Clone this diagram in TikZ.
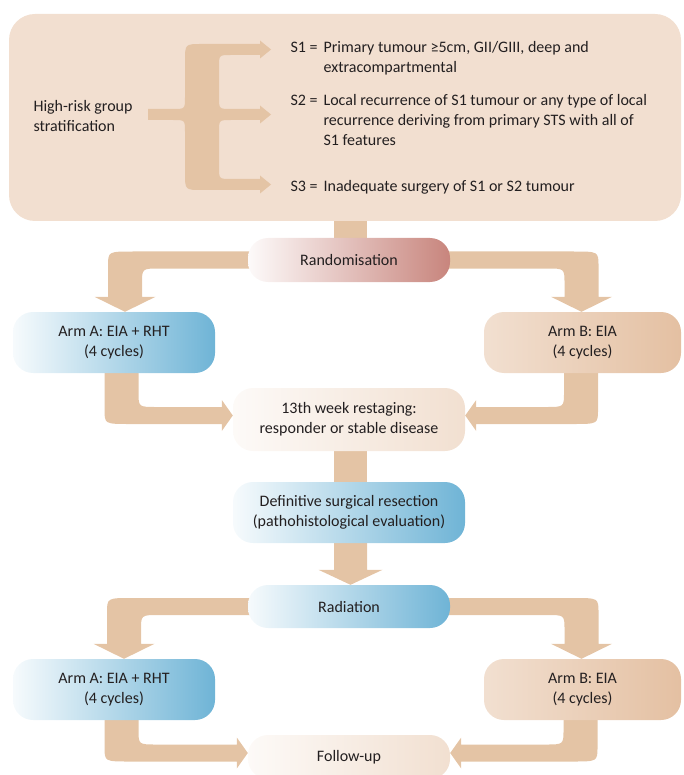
\documentclass[tikz,border=0pt]{standalone}
\usepackage{fontspec}
\setmainfont{Carlito}
\usetikzlibrary{calc,backgrounds}

\definecolor{flowc}{HTML}{E4C4A5}
\definecolor{panelc}{HTML}{F2DFD0}
\definecolor{armblue}{HTML}{6FB4D6}
\definecolor{armpeach}{HTML}{E4C0A2}
\definecolor{randrose}{HTML}{C8857D}
\definecolor{textc}{HTML}{231F20}

\begin{document}
\begin{tikzpicture}[
    x=1pt, y=-1pt, % pixel units, y runs downwards
    every node/.style={font=\fontsize{16}{20}\selectfont, text=textc},
    box/.style={rounded corners=20pt, inner sep=0pt, align=center},
    blue box/.style={box, left color=armblue!6!white, right color=armblue},
    peach box/.style={box, left color=armpeach!50!white, right color=armpeach},
    pale box/.style={box, left color=armpeach!8!white, right color=armpeach!50!white},
    rose box/.style={box, left color=randrose!4!white, right color=randrose},
    flow/.style={fill=flowc}
  ]
    \useasboundingbox (0,0) rectangle (683,775);

    % Stratification panel
    \node[box, rounded corners=26pt, fill=panelc, minimum width=672pt, minimum height=207pt] (panel) at (345,117.5) {};
    \node[anchor=base west] (hr) at (30,111.5) {\begin{tabular}[t]{@{}l@{}}High-risk group\\stratification\end{tabular}};
    \node[anchor=base west] (s1) at (287,52.5) {\begin{tabular}[t]{@{}l@{\hspace{6pt}}l@{}}S1 =& Primary tumour ≥5cm, GII/GIII, deep and\\ & extracompartmental\end{tabular}};
    \node[anchor=base west] (s2) at (287,106) {\begin{tabular}[t]{@{}l@{\hspace{6pt}}l@{}}S2 =& Local recurrence of S1 tumour or any type of local\\ & recurrence deriving from primary STS with all of\\ & S1 features\end{tabular}};
    \node[anchor=base west] (s3) at (287,192) {\begin{tabular}[t]{@{}l@{\hspace{6pt}}l@{}}S3 =& Inadequate surgery of S1 or S2 tumour\end{tabular}};

    % The brace with its three arrows
    \fill[flow] (148,109) -- (173,109) .. controls (185,109) .. (185,97) -- (185,61)
      .. controls (185,44) .. (202,44) -- (260,44) -- (260,40.5) -- (271,49.5) -- (260,58.5) -- (260,55)
      -- (231,55) .. controls (219,55) .. (219,67) -- (219,97) .. controls (219,109) .. (231,109)
      -- (260,109) -- (260,105.5) -- (271,114.5) -- (260,123.5) -- (260,120)
      -- (231,120) .. controls (219,120) .. (219,132) -- (219,167) .. controls (219,179) .. (231,179)
      -- (260,179) -- (260,175.5) -- (271,184.5) -- (260,193.5) -- (260,190)
      -- (202,190) .. controls (185,190) .. (185,173) -- (185,132) .. controls (185,120) .. (173,120)
      -- (148,120) -- cycle;

    % Flow boxes
    \node[rose box, minimum width=202pt, minimum height=44pt] (rand) at (349,260) {Randomisation};
    \node[blue box, minimum width=202pt, minimum height=61pt] (armA) at (114,342.5) {Arm A: EIA + RHT\\(4 cycles)};
    \node[peach box, minimum width=197pt, minimum height=61pt] (armB) at (582.5,342.5) {Arm B: EIA\\(4 cycles)};
    \node[pale box, minimum width=232pt, minimum height=63pt] (restage) at (349,419.5) {13th week restaging:\\responder or stable disease};
    \node[blue box, minimum width=232pt, minimum height=61pt] (defin) at (349,512.5) {Definitive surgical resection\\(pathohistological evaluation)};
    \node[blue box, minimum width=202pt, minimum height=43pt] (rad) at (349,606.5) {Radiation};
    \node[blue box, minimum width=202pt, minimum height=61pt] (armAA) at (114,689.5) {Arm A: EIA + RHT\\(4 cycles)};
    \node[peach box, minimum width=197pt, minimum height=61pt] (armBB) at (582.5,689.5) {Arm B: EIA\\(4 cycles)};
    \node[pale box, minimum width=202pt, minimum height=44pt] (follow) at (349,757) {Follow-up};

    \begin{scope}[on background layer]
      % straight links down the middle
      \fill[flow] ($(panel.south -| rand.north)+(-15,-2)$) rectangle ($(rand.center)+(18,0)$);
      \fill[flow] ($(restage.center)+(-15,0)$) rectangle ($(defin.center)+(18,0)$);
      \fill[flow] ($(defin.center)+(-15,0)$) -- ($(rad.north)+(-15,-15)$) -- ($(rad.north)+(-30.5,-15)$)
        -- ($(rad.north)+(1.5,0)$) -- ($(rad.north)+(33.5,-15)$) -- ($(rad.north)+(18,-15)$)
        -- ($(defin.center)+(18,0)$) -- cycle;

      % elbows from a box side down into an arm
      \foreach \src/\dst/\off/\dir in {rand/armA/11/-1, rand/armB/-1/1, rad/armAA/10/-1, rad/armBB/-1/1} {
        \coordinate (k) at ($(\src.center -| \dst.north)+(\off,0)$);
        \coordinate (e) at (k |- \dst.north);
        \fill[flow] ($(\src.center)+(0,-8.5)$) -- ($(k)+({-8*\dir},-8.5)$)
          .. controls ($(k)+({17*\dir},-8.5)$) .. ($(k)+({17*\dir},6.5)$)
          -- ($(e)+({17*\dir},-15)$) -- ($(e)+({30.5*\dir},-15)$) -- (e)
          -- ($(e)+({-30.5*\dir},-15)$) -- ($(e)+({-17*\dir},-15)$)
          -- ($(k)+({-17*\dir},23.5)$) .. controls ($(k)+({-17*\dir},8.5)$) .. ($(k)+({-35*\dir},8.5)$)
          -- ($(\src.center)+(0,8.5)$) -- cycle;
      }

      % elbows from an arm down and across into the next box
      \foreach \src/\dst/\off/\dir/\side in {armA/restage/7.5/1/west, armB/restage/-1.5/-1/east, armAA/follow/7.5/1/west, armBB/follow/-2/-1/east} {
        \coordinate (k) at ($(\src.center |- \dst.center)+(\off,-4)$);
        \coordinate (e) at ($(\dst.\side)+(0,-4)$);
        \fill[flow] ($(\src.center)+({\off-17*\dir},0)$) -- ($(k)+({-17*\dir},-6.5)$)
          .. controls ($(k)+({-17*\dir},8.5)$) .. ($(k)+({8*\dir},8.5)$)
          -- ($(e)+({-11*\dir},8.5)$) -- ($(e)+({-11*\dir},15.5)$) -- (e)
          -- ($(e)+({-11*\dir},-15.5)$) -- ($(e)+({-11*\dir},-8.5)$)
          -- ($(k)+({35*\dir},-8.5)$) .. controls ($(k)+({17*\dir},-8.5)$) .. ($(k)+({17*\dir},-23.5)$)
          -- ($(\src.center)+({\off+17*\dir},0)$) -- cycle;
      }
    \end{scope}

\end{tikzpicture}
\end{document}
